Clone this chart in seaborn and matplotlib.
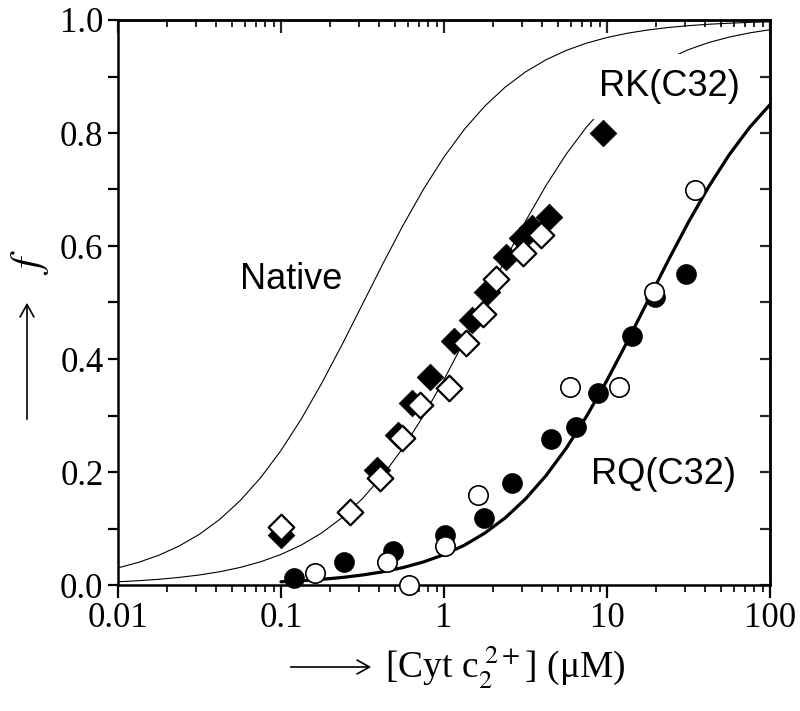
import matplotlib
matplotlib.use("Agg")
import matplotlib.pyplot as plt
import seaborn as sns
import numpy as np
from matplotlib.ticker import MultipleLocator, LogLocator, NullFormatter

# ---------------- data ----------------
# fitted curves
curve_x = [0.01, 0.013335, 0.017783, 0.023714, 0.031623, 0.04217, 0.056234, 0.074989,
           0.1, 0.13335, 0.17783, 0.23714, 0.31623, 0.4217, 0.56234, 0.74989,
           1.0, 1.3335, 1.7783, 2.3714, 3.1623, 4.217, 5.6234, 7.4989,
           10.0, 13.335, 17.783, 23.714, 31.623, 42.17, 56.234, 74.989, 100.0]
native_f = [0.0303, 0.0400, 0.0526, 0.0690, 0.0899, 0.1164, 0.1495, 0.1899,
            0.2381, 0.2941, 0.3572, 0.4256, 0.4970, 0.5686, 0.6373, 0.7009,
            0.7576, 0.8065, 0.8475, 0.8811, 0.9081, 0.9295, 0.9462, 0.9591,
            0.9690, 0.9766, 0.9823, 0.9867, 0.9900, 0.9925, 0.9943, 0.9958, 0.9968]
rk_f = [0.0057, 0.0076, 0.0101, 0.0134, 0.0178, 0.0235, 0.0311, 0.0411,
        0.0541, 0.0708, 0.0922, 0.1193, 0.1530, 0.1942, 0.2432, 0.3000,
        0.3636, 0.4325, 0.5040, 0.5754, 0.6438, 0.7067, 0.7627, 0.8108,
        0.8511, 0.8840, 0.9104, 0.9313, 0.9476, 0.9602, 0.9698, 0.9772, 0.9828]
rq_x = curve_x[8:]
rq_f = [0.0057, 0.0075, 0.0100, 0.0133, 0.0177, 0.0234, 0.0310, 0.0409,
        0.0538, 0.0704, 0.0918, 0.1187, 0.1523, 0.1933, 0.2421, 0.2988,
        0.3623, 0.4311, 0.5026, 0.5740, 0.6424, 0.7055, 0.7616, 0.8099, 0.8503]

# RK(C32) data: filled and open diamonds
rk_fill_x = [0.1, 0.388, 0.52, 0.637, 0.817, 1.147, 1.488, 1.84, 2.41, 3.02, 3.48, 4.40, 9.48]
rk_fill_f = [0.088, 0.204, 0.265, 0.322, 0.369, 0.431, 0.469, 0.519, 0.581, 0.614, 0.631, 0.651, 0.80]
rk_open_x = [0.1, 0.266, 0.403, 0.554, 0.716, 1.07, 1.37, 1.74, 2.09, 3.06, 3.96]
rk_open_f = [0.103, 0.13, 0.189, 0.26, 0.319, 0.348, 0.429, 0.479, 0.541, 0.588, 0.619]

# RQ(C32) data: filled and open circles
rq_fill_x = [0.12, 0.242, 0.484, 1.01, 1.77, 2.62, 4.55, 6.41, 8.8, 14.3, 19.8, 30.4]
rq_fill_f = [0.012, 0.04, 0.06, 0.088, 0.118, 0.18, 0.258, 0.279, 0.34, 0.44, 0.51, 0.55]
rq_open_x = [0.161, 0.448, 0.607, 1.01, 1.62, 5.92, 11.9, 19.4, 34.5]
rq_open_f = [0.022, 0.04, 0.0, 0.069, 0.159, 0.35, 0.35, 0.519, 0.70]

x_ticks = [0.01, 0.1, 1, 10, 100]
x_tick_labels = ["0.01", "0.1", "1", "10", "100"]
y_ticks = [0.0, 0.2, 0.4, 0.6, 0.8, 1.0]
y_tick_labels = ["0.0", "0.2", "0.4", "0.6", "0.8", "1.0"]

# ---------------- styling ----------------
sns.set_theme(style="ticks")
plt.rcParams["font.family"] = ["Liberation Serif", "DejaVu Serif"]
plt.rcParams["mathtext.fontset"] = "stix"

fig = plt.figure(figsize=(8, 7.11), dpi=100)
ax = fig.add_axes([118 / 800, 1 - 585 / 711, (770 - 118) / 800, (585 - 20) / 711])
ax.set_xscale("log")

# curves
sns.lineplot(x=curve_x, y=native_f, color="black", lw=0.8, ax=ax, sort=False,
             estimator=None, zorder=1.5)
sns.lineplot(x=curve_x, y=rk_f, color="black", lw=0.8, ax=ax, sort=False,
             estimator=None, zorder=1.5)
sns.lineplot(x=rq_x, y=rq_f, color="black", lw=2.3, ax=ax, sort=False,
             estimator=None, zorder=2.5)

# points
sns.scatterplot(x=rk_fill_x, y=rk_fill_f, marker="D", s=185, color="black",
                edgecolor="black", linewidth=0.5, ax=ax, zorder=4, clip_on=False)
sns.scatterplot(x=rk_open_x, y=rk_open_f, marker="D", s=170, color="white",
                edgecolor="black", linewidth=1.6, ax=ax, zorder=5, clip_on=False)
sns.scatterplot(x=rq_fill_x, y=rq_fill_f, marker="o", s=205, color="black",
                edgecolor="black", linewidth=0.5, ax=ax, zorder=4, clip_on=False)
sns.scatterplot(x=rq_open_x, y=rq_open_f, marker="o", s=195, color="white",
                edgecolor="black", linewidth=1.2, ax=ax, zorder=5, clip_on=False)

ax.set_xlim(0.01, 100)
ax.set_ylim(0, 1)

# labels inside plot
sans = ["Liberation Sans", "DejaVu Sans"]
ax.text(0.1156, 0.54, "Native", family=sans, fontsize=26, ha="center", va="center",
        color="black", zorder=2)
ax.text(24.2, 0.882, "RK(C32)", family=sans, fontsize=26, ha="center", va="center",
        color="black", zorder=2,
        bbox=dict(boxstyle="square,pad=0.42", facecolor="white", edgecolor="none"))
ax.text(22.3, 0.196, "RQ(C32)", family=sans, fontsize=26, ha="center", va="center",
        color="black", zorder=2)

# ticks: bottom/left outward with labels
ax.set_xticks(x_ticks)
ax.set_xticklabels(x_tick_labels)
ax.xaxis.set_minor_locator(LogLocator(base=10, subs=np.arange(2, 10)))
ax.xaxis.set_minor_formatter(NullFormatter())
ax.set_yticks(y_ticks)
ax.set_yticklabels(y_tick_labels)
ax.yaxis.set_minor_locator(MultipleLocator(0.1))
ax.tick_params(axis="x", which="major", direction="out", length=9, width=1.6,
               labelsize=25, pad=3, colors="black", top=False)
ax.tick_params(axis="x", which="minor", direction="out", length=5, width=1.4, top=False)
ax.tick_params(axis="y", which="both", direction="out", length=7.5, width=1.6,
               labelsize=25, pad=3, colors="black", right=False)
for sp in ax.spines.values():
    sp.set_visible(True)
    sp.set_linewidth(1.8)
    sp.set_color("black")

# top / right: inward ticks without labels
secx = ax.secondary_xaxis("top")
secx.set_xticks(x_ticks)
secx.xaxis.set_minor_locator(LogLocator(base=10, subs=np.arange(2, 10)))
secx.xaxis.set_minor_formatter(NullFormatter())
secx.tick_params(axis="x", which="major", direction="in", length=9, width=1.6, labeltop=False)
secx.tick_params(axis="x", which="minor", direction="in", length=5, width=1.4, labeltop=False)
secx.spines["top"].set_linewidth(1.8)

secy = ax.secondary_yaxis("right")
secy.set_yticks(y_ticks)
secy.yaxis.set_minor_locator(MultipleLocator(0.1))
secy.tick_params(axis="y", which="both", direction="in", length=7.5, width=1.6, labelright=False)
secy.spines["right"].set_linewidth(1.8)

# axis titles with arrows
fig.text(505 / 800, 1 - 667 / 711, "[Cyt c$_{2}^{\\ 2+}$] (μM)",
         fontsize=27, ha="center", va="center", color="black")
fig.patches.append(matplotlib.patches.FancyArrowPatch(
    (288 / 800, 1 - 667 / 711), (374 / 800, 1 - 667 / 711), transform=fig.transFigure,
    arrowstyle="->,head_length=9,head_width=5", lw=1.2, color="black", mutation_scale=1))
fig.text(30 / 800, 1 - 262 / 711, r"$f$", fontsize=30, ha="center", va="center",
         rotation=90, color="black")
fig.patches.append(matplotlib.patches.FancyArrowPatch(
    (27 / 800, 1 - 422 / 711), (27 / 800, 1 - 300 / 711), transform=fig.transFigure,
    arrowstyle="->,head_length=9,head_width=5", lw=1.2, color="black", mutation_scale=1))

fig.savefig("out.png", dpi=100, facecolor="white")
